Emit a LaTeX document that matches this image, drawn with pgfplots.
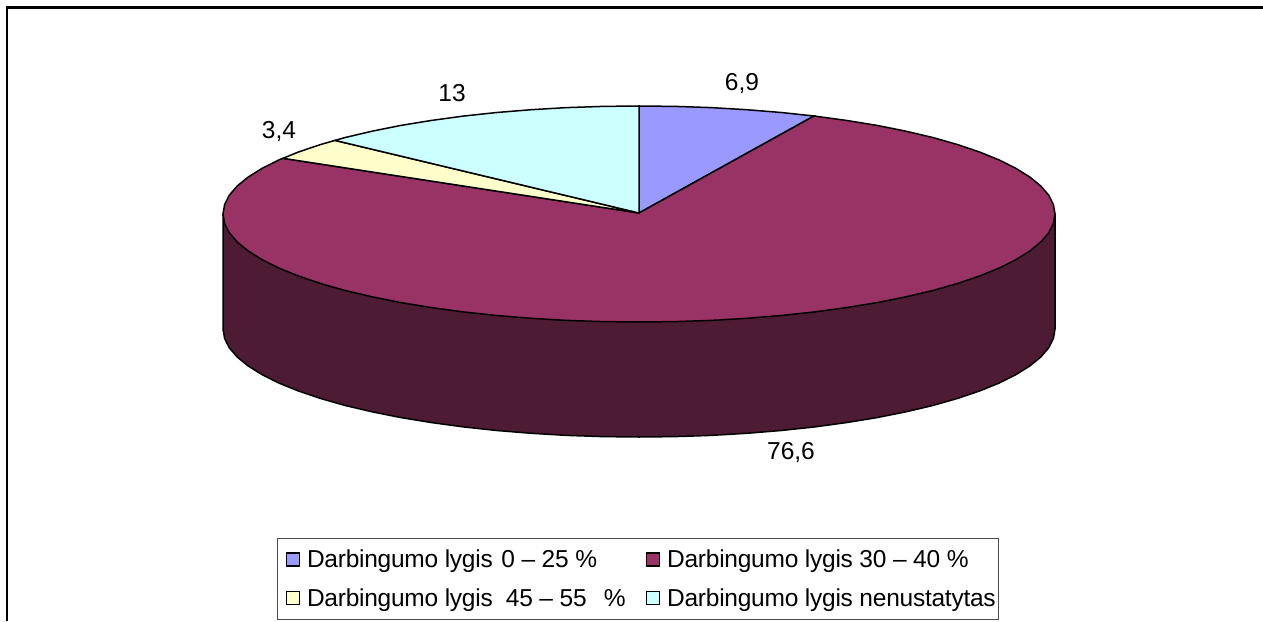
\documentclass[border=0pt]{standalone}
\usepackage{fontspec}
\setmainfont{Liberation Sans}
\newfontfamily\legfont[LetterSpace=-1.0]{Liberation Sans}
\usepackage{pgfplots}
\pgfplotsset{compat=1.18}
\definecolor{slA}{HTML}{9999FF}
\definecolor{slB}{HTML}{993366}
\definecolor{slC}{HTML}{FFFFCC}
\definecolor{slD}{HTML}{CCFFFF}
\definecolor{sideB}{HTML}{4D1B33}
\newcommand{\lab}{\fontsize{24.5}{29}\selectfont}
\begin{document}
\begin{tikzpicture}
\useasboundingbox (0,0) rectangle (1263pt,621pt);
\begin{axis}[
    at={(0,0)}, anchor=south west,
    scale only axis, width=1263pt, height=621pt,
    xmin=0, xmax=1263, ymin=0, ymax=621,
    y dir=reverse,
    axis lines=none,
    legend columns=2,
    legend cell align=left,
    legend image code/.code={\path (0pt,0pt); \draw[#1] (5pt,-6.5pt) rectangle (18pt,6.5pt);},
    legend style={
        at={(axis cs:277,538)}, anchor=north west,
        draw=black!70, line width=1pt, fill=white,
        inner xsep=3pt, inner ysep=11.5pt,
        row sep=19pt,
        nodes={inner sep=0pt},
        /tikz/column 1/.style={column sep=7pt},
        /tikz/column 2/.style={column sep=15pt},
        /tikz/column 3/.style={column sep=7pt},
        font=\legfont\lab,
    },
]
% chart frame, open on the right and at the bottom
\addplot[forget plot, black, line width=2.6pt] coordinates {(7,621)(7,7.5)(1263,7.5)};

% side wall of the disc
\addplot[forget plot, fill=sideB, draw=black, line width=1.5pt] coordinates {
(1055,214)(1055,329)(1053.4,338.4)(1048.7,347.8)(1040.8,357)(1029.9,365.9)(1016,374.6)(999.3,383)
(979.8,390.9)(957.7,398.4)(933.2,405.4)(906.4,411.7)(877.6,417.5)(847,422.5)(814.8,426.9)(781.3,430.5)
(746.7,433.3)(711.2,435.4)(675.3,436.6)(639,437)(602.7,436.6)(566.8,435.4)(531.3,433.3)(496.7,430.5)
(463.2,426.9)(431,422.5)(400.4,417.5)(371.6,411.7)(344.8,405.4)(320.3,398.4)(298.2,390.9)(278.7,383)
(262,374.6)(248.1,365.9)(237.2,357)(229.3,347.8)(224.6,338.4)(223,329)(223,214)
} -- cycle;

% top slices
\addplot[fill=slA, draw=black, line width=1.5pt] coordinates {
(639,213)(639,106)(675.3,106.4)(711.2,107.6)(746.7,109.7)(781.3,112.5)(814,116)
} -- cycle;
\addlegendentry{Darbingumo lygis\hspace{2pt} 0 – 25 \%}

\addplot[fill=slB, draw=black, line width=1.5pt] coordinates {
(639,213)(814,116)(847,120.5)(877.6,125.5)(906.4,131.3)(933.2,137.6)(957.7,144.6)(979.8,152.1)
(999.3,160)(1016,168.4)(1029.9,177.1)(1040.8,186)(1048.7,195.2)(1053.4,204.6)(1055,214)
(1053.4,223.4)(1048.7,232.8)(1040.8,242)(1029.9,250.9)(1016,259.6)(999.3,268)(979.8,275.9)
(957.7,283.4)(933.2,290.4)(906.4,296.7)(877.6,302.5)(847,307.5)(814.8,311.9)(781.3,315.5)
(746.7,318.3)(711.2,320.4)(675.3,321.6)(639,322)(602.7,321.6)(566.8,320.4)(531.3,318.3)
(496.7,315.5)(463.2,311.9)(431,307.5)(400.4,302.5)(371.6,296.7)(344.8,290.4)(320.3,283.4)
(298.2,275.9)(278.7,268)(262,259.6)(248.1,250.9)(237.2,242)(229.3,232.8)(224.6,223.4)(223,214)
(224.6,204.6)(229.3,195.2)(237.2,186)(248.1,177.1)(262,168.4)(278.7,160)(283,158.3)
} -- cycle;
\addlegendentry{Darbingumo lygis 30 – 40 \%}

\addplot[fill=slC, draw=black, line width=1.5pt] coordinates {
(639,213)(283,158.3)(298.2,152.1)(320.3,144.6)(335,140.4)
} -- cycle;
\addlegendentry{Darbingumo lygis\ \ 45 – 55\ \ \hspace{4pt}\%}

\addplot[fill=slD, draw=black, line width=1.5pt] coordinates {
(639,213)(335,140.4)(344.8,137.6)(371.6,131.3)(400.4,125.5)(431,120.5)(463.2,116.1)(496.7,112.5)
(531.3,109.7)(566.8,107.6)(602.7,106.4)(639,106)
} -- cycle;
\addlegendentry{Darbingumo lygis nenustatytas}

% value labels
\node[font=\lab] at (axis cs:742,84) {6,9};
\node[font=\lab] at (axis cs:791,453) {76,6};
\node[font=\lab] at (axis cs:279,132) {3,4};
\node[font=\lab] at (axis cs:452,93) {13};
\end{axis}
\end{tikzpicture}
\end{document}
